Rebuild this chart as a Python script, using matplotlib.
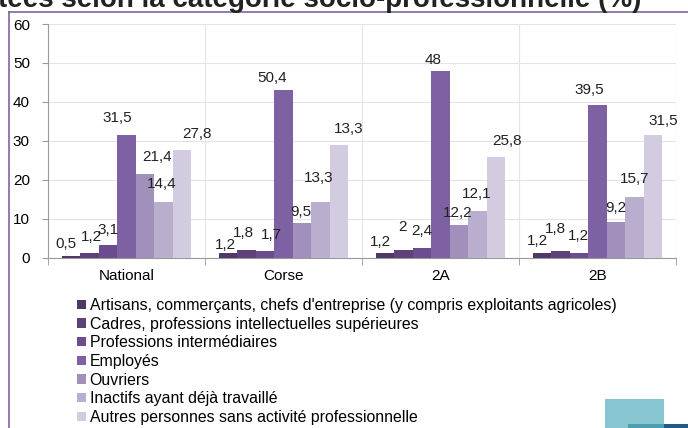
import numpy as np
import matplotlib
matplotlib.use("Agg")
import matplotlib.pyplot as plt
from matplotlib.patches import Rectangle
from matplotlib.lines import Line2D

plt.rcParams['font.family'] = ['Liberation Sans', 'DejaVu Sans']

# data
zones = ["National", "Corse", "2A", "2B"]
categories = [
    "Artisans, commerçants, chefs d'entreprise (y compris exploitants agricoles)",
    "Cadres, professions intellectuelles supérieures",
    "Professions intermédiaires",
    "Employés",
    "Ouvriers",
    "Inactifs ayant déjà travaillé",
    "Autres personnes sans activité professionnelle",
]
# bar heights as drawn (one list per category, one value per zone)
artisans = [0.5, 1.2, 1.2, 1.2]
cadres = [1.2, 1.9, 1.9, 1.7]
prof_inter = [3.1, 1.6, 2.4, 1.1]
employes = [31.5, 43.0, 47.8, 39.3]
ouvriers = [21.4, 8.9, 8.3, 9.1]
inactifs = [14.3, 14.2, 11.9, 15.5]
autres = [27.6, 29.0, 25.7, 31.4]
# labels as printed on the chart
lab_artisans = ["0,5", "1,2", "1,2", "1,2"]
lab_cadres = ["1,2", "1,8", "2", "1,8"]
lab_prof_inter = ["3,1", "1,7", "2,4", "1,2"]
lab_employes = ["31,5", "50,4", "48", "39,5"]
lab_ouvriers = ["21,4", "9,5", "12,2", "9,2"]
lab_inactifs = ["14,4", "13,3", "12,1", "15,7"]
lab_autres = ["27,8", "13,3", "25,8", "31,5"]

series = [artisans, cadres, prof_inter, employes, ouvriers, inactifs, autres]
labels = [lab_artisans, lab_cadres, lab_prof_inter, lab_employes,
          lab_ouvriers, lab_inactifs, lab_autres]
colors = ["#4f3866", "#5d4279", "#6b4c8f", "#7e61a2", "#a090bb", "#b9aecd", "#d3cce0"]

# the labels were dragged around by hand in the original: nudge (px) from bar top
nudge_dx = [[-5, -2, -4, -4.5], [1.5, -3, -0.5, -5.5], [0.5, 6, -0.5, -0.5],
            [-9, -11, -7.5, -8.5], [12, -1.5, -1, -0.5], [-1.5, -2, -0.5, 0],
            [15, 10, 10.5, 10]]
nudge_dy = [[10.5, 6, 9.5, 10], [14.5, 16, 22, 20.5], [14, 14.5, 15.5, 15.5],
            [15, 11, 10, 13.5], [15.5, 9.5, 10.5, 12.5], [16.5, 23, 16, 17],
            [15, 14.5, 15, 12.5]]

fig = plt.figure(figsize=(6.88, 4.28), dpi=100)
ax = fig.add_axes([48 / 688, 170.5 / 428, 628 / 688, 233.5 / 428])

x = np.arange(len(zones))
w = 0.118
pt = 72 / fig.dpi
for i, (vals, labs) in enumerate(zip(series, labels)):
    bars = ax.bar(x + (i - 3) * w, vals, w, color=colors[i], label=categories[i], zorder=3)
    for j, (b, t) in enumerate(zip(bars, labs)):
        ax.annotate(t, (b.get_x() + b.get_width() / 2, b.get_height()),
                    xytext=(nudge_dx[i][j] * pt, (nudge_dy[i][j] + 1.5) * pt),
                    textcoords="offset points", zorder=5,
                    ha="center", va="center", fontsize=11, color="#222222")

ax.set_xlim(-0.5, 3.5)
ax.set_ylim(0, 60)
ax.set_yticks(range(0, 61, 10))
ax.set_xticks(x)
ax.set_xticklabels(zones)
ax.set_xticks([-0.5, 0.5, 1.5, 2.5, 3.5], minor=True)
ax.tick_params(axis="x", which="major", length=0, labelsize=11, pad=8)
ax.tick_params(axis="x", which="minor", length=5, color="#9a9a9a")
ax.tick_params(axis="y", length=4, color="#9a9a9a", labelsize=11, pad=9)
ax.grid(axis="y", color="#e4e4e4", lw=0.8, zorder=0)
ax.grid(axis="x", which="minor", color="#e4e4e4", lw=0.8, zorder=0)
for s in ["top", "right"]:
    ax.spines[s].set_visible(False)
for s in ["left", "bottom"]:
    ax.spines[s].set_color("#9a9a9a")

fig.legend(loc="upper left", bbox_to_anchor=(77 / 688, 1 - 298 / 428), frameon=False,
           fontsize=11.45, handlelength=0.55, handleheight=0.5, handletextpad=0.25,
           labelspacing=0.23, borderpad=0, borderaxespad=0)

# slide decorations
fig.text(-0.003, 1 - 7 / 428, "tées selon la catégorie socio-professionnelle (%)",
         fontsize=20, fontweight="bold", color="#222222", va="baseline")
fig.add_artist(Line2D([9 / 688, 1], [1 - 11.7 / 428] * 2, color="#8064a2", lw=1.2))
fig.add_artist(Line2D([9.3 / 688] * 2, [0, 1 - 11.7 / 428], color="#8064a2", lw=1.2))
fig.add_artist(Rectangle((605 / 688, 0), 59 / 688, 29 / 428, color="#87c6d0", lw=0))
fig.add_artist(Rectangle((628 / 688, 0), 36 / 688, 4 / 428, color="#4c9fb1", lw=0))
fig.add_artist(Rectangle((664 / 688, 0), 24 / 688, 4 / 428, color="#1f5a8a", lw=0))

fig.savefig("out.png", dpi=100)
